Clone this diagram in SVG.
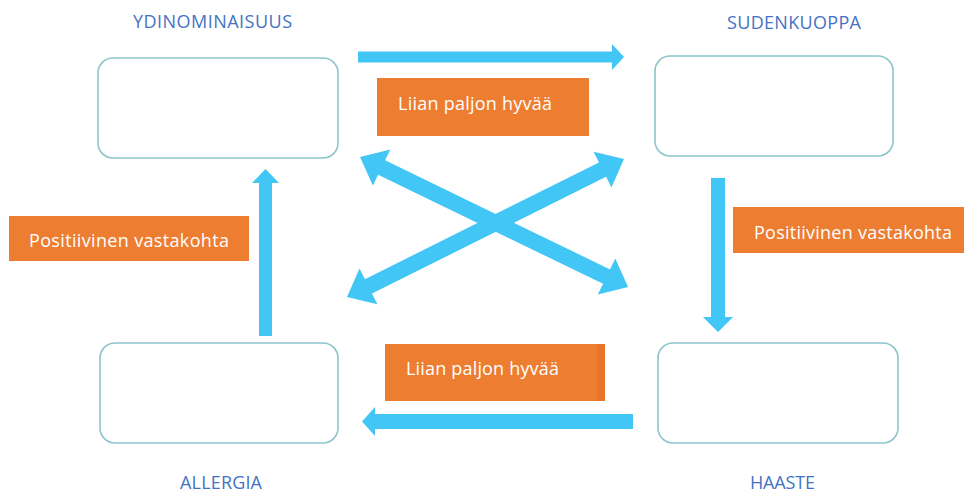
<svg xmlns="http://www.w3.org/2000/svg" width="964" height="495" viewBox="0 0 964 495">
  <style>
    .box { fill: #ffffff; stroke: #8cc5cb; stroke-width: 1.6; }
    .title { font-family: "Open Sans", "Liberation Sans", sans-serif; font-size: 18px; fill: #4472c4; }
    .arrow { fill: #41c6f5; }
    .tag { fill: #ed7d31; }
    .tagtext { font-family: "Open Sans", "Liberation Sans", sans-serif; font-size: 18px; fill: #ffffff; }
  </style>

  <rect width="964" height="495" fill="#ffffff"/>

  <!-- nodes -->
  <g id="ydinominaisuus">
    <rect class="box" x="98" y="58" width="240" height="100" rx="15"/>
    <text class="title" x="133" y="28" textLength="159">YDINOMINAISUUS</text>
  </g>
  <g id="sudenkuoppa">
    <rect class="box" x="655" y="56" width="238" height="100" rx="15"/>
    <text class="title" x="727" y="29" textLength="134">SUDENKUOPPA</text>
  </g>
  <g id="allergia">
    <rect class="box" x="100" y="343" width="238" height="100" rx="15"/>
    <text class="title" x="180" y="489" textLength="82">ALLERGIA</text>
  </g>
  <g id="haaste">
    <rect class="box" x="658" y="343" width="240" height="100" rx="15"/>
    <text class="title" x="750" y="489" textLength="65">HAASTE</text>
  </g>

  <!-- connectors -->
  <g id="connectors">
    <!-- top: ydinominaisuus -> sudenkuoppa -->
    <polygon class="arrow" points="358,51.5 612,51.5 612,44 624,57 612,70 612,62.5 358,62.5"/>
    <!-- right: sudenkuoppa -> haaste -->
    <polygon class="arrow" points="711,178 725,178 725,317 733,317 718,332 703,317 711,317"/>
    <!-- bottom: haaste -> allergia -->
    <polygon class="arrow" points="633,414 375,414 375,407 362,421.5 375,436 375,429 633,429"/>
    <!-- left: allergia -> ydinominaisuus -->
    <polygon class="arrow" points="259,336 259,183 252,183 265.5,169 279,183 272,183 272,336"/>
    <!-- diagonals, double-headed -->
    <g transform="translate(360,157) rotate(25.88)">
      <polygon class="arrow" points="0,0 24,-20 24,-8 274,-8 274,-20 298,0 274,20 274,8 24,8 24,20"/>
    </g>
    <g transform="translate(624,159) rotate(153.52)">
      <polygon class="arrow" points="0,0 24,-20 24,-8 285.5,-8 285.5,-20 309.5,0 285.5,20 285.5,8 24,8 24,20"/>
    </g>
  </g>

  <!-- connector labels -->
  <g id="labels">
    <g id="label-top">
      <rect class="tag" x="377" y="78" width="212" height="58"/>
      <text class="tagtext" x="398" y="110" textLength="154">Liian paljon hyvää</text>
    </g>
    <g id="label-left">
      <rect class="tag" x="9" y="216" width="240" height="45"/>
      <text class="tagtext" x="29" y="247" textLength="200">Positiivinen vastakohta</text>
    </g>
    <g id="label-right">
      <rect class="tag" x="733" y="207" width="231" height="46"/>
      <text class="tagtext" x="754" y="239" textLength="198">Positiivinen vastakohta</text>
    </g>
    <g id="label-bottom">
      <rect x="597" y="344" width="8" height="57" fill="#e8742a"/>
      <rect class="tag" x="385" y="344" width="212" height="57"/>
      <text class="tagtext" x="406" y="375" textLength="153">Liian paljon hyvää</text>
    </g>
  </g>
</svg>
